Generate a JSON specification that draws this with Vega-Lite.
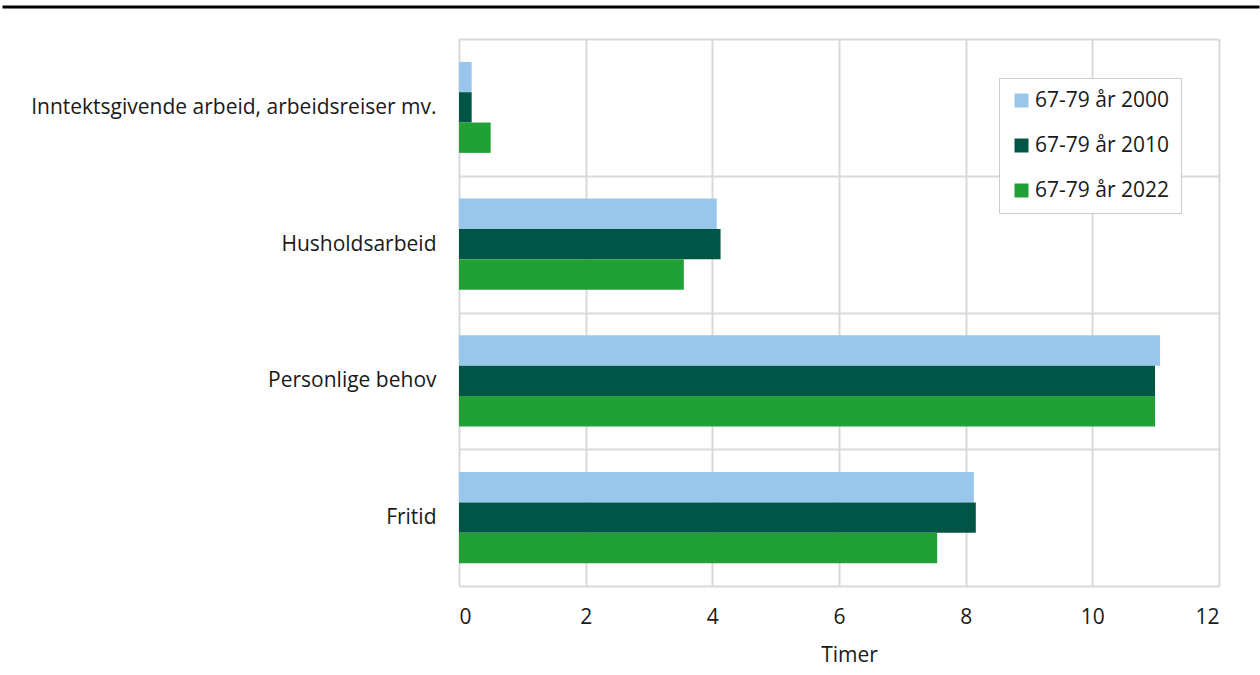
{
  "$schema": "https://vega.github.io/schema/vega-lite/v6.json",
  "padding": {"left": 0, "top": 0, "right": 0, "bottom": 30},
  "spacing": 19,
  "background": "white",
  "config": {
    "view": {"stroke": null},
    "font": "Open Sans",
    "axis": {"labelFont": "Open Sans", "titleFont": "Open Sans", "labelColor": "#1a1a1a", "titleColor": "#1a1a1a", "labelFontSize": 21, "titleFontSize": 21, "titleFontWeight": "normal"},
    "legend": {"labelFont": "Open Sans", "labelFontSize": 21, "labelColor": "#1a1a1a"}
  },
  "vconcat": [
    {
      "width": 760,
      "height": 7,
      "data": {"values": [{"v": 0, "x0": -7.208, "x1": 12.64}]},
      "mark": {"type": "rule", "color": "black", "strokeWidth": 3},
      "encoding": {
        "x": {"field": "x0", "type": "quantitative", "axis": null, "scale": {"domain": [0, 12], "nice": false, "zero": false}},
        "x2": {"field": "x1"},
        "y": {"field": "v", "type": "quantitative", "axis": null, "scale": {"domain": [0, 1]}}
      }
    },
    {
      "width": 760,
      "height": 547,
      "data": {
        "values": [
          {"kategori": "Inntektsgivende arbeid, arbeidsreiser mv.", "serie": "67-79 år 2000", "timer": 0.2},
          {"kategori": "Inntektsgivende arbeid, arbeidsreiser mv.", "serie": "67-79 år 2010", "timer": 0.2},
          {"kategori": "Inntektsgivende arbeid, arbeidsreiser mv.", "serie": "67-79 år 2022", "timer": 0.5},
          {"kategori": "Husholdsarbeid", "serie": "67-79 år 2000", "timer": 4.07},
          {"kategori": "Husholdsarbeid", "serie": "67-79 år 2010", "timer": 4.13},
          {"kategori": "Husholdsarbeid", "serie": "67-79 år 2022", "timer": 3.55},
          {"kategori": "Personlige behov", "serie": "67-79 år 2000", "timer": 11.07},
          {"kategori": "Personlige behov", "serie": "67-79 år 2010", "timer": 10.99},
          {"kategori": "Personlige behov", "serie": "67-79 år 2022", "timer": 10.99},
          {"kategori": "Fritid", "serie": "67-79 år 2000", "timer": 8.13},
          {"kategori": "Fritid", "serie": "67-79 år 2010", "timer": 8.16},
          {"kategori": "Fritid", "serie": "67-79 år 2022", "timer": 7.55}
        ]
      },
      "mark": {"type": "bar"},
      "encoding": {
        "y": {
          "field": "kategori", "type": "nominal", "sort": null,
          "scale": {"paddingInner": 0, "paddingOuter": 0},
          "axis": {"title": null, "ticks": false, "domain": false, "grid": true, "tickBand": "extent", "gridColor": "#d9d9d9", "gridWidth": 2, "labelPadding": 23, "labelLimit": 500, "minExtent": 458, "maxExtent": 458}
        },
        "yOffset": {"field": "serie", "type": "nominal", "sort": null, "scale": {"paddingInner": 0, "paddingOuter": 0.754}},
        "x": {
          "field": "timer", "type": "quantitative",
          "scale": {"domain": [0, 12], "nice": false},
          "axis": {"title": "Timer", "values": [0, 2, 4, 6, 8, 10, 12], "ticks": false, "domain": false, "grid": true, "gridColor": "#d9d9d9", "gridWidth": 2, "labelPadding": 20, "labelDx": 6, "titlePadding": 17, "titleX": 390}
        },
        "color": {
          "field": "serie", "type": "nominal", "sort": null,
          "scale": {"range": ["#99c7ec", "#005646", "#21a038"]},
          "legend": {"title": null, "orient": "none", "legendX": 540, "legendY": 78, "symbolType": "square", "symbolSize": 196, "symbolStrokeWidth": 0, "symbolOpacity": 1, "labelOffset": 3, "rowPadding": 23, "padding": 12, "strokeColor": "#cccccc", "fillColor": "white"}
        }
      }
    }
  ]
}
